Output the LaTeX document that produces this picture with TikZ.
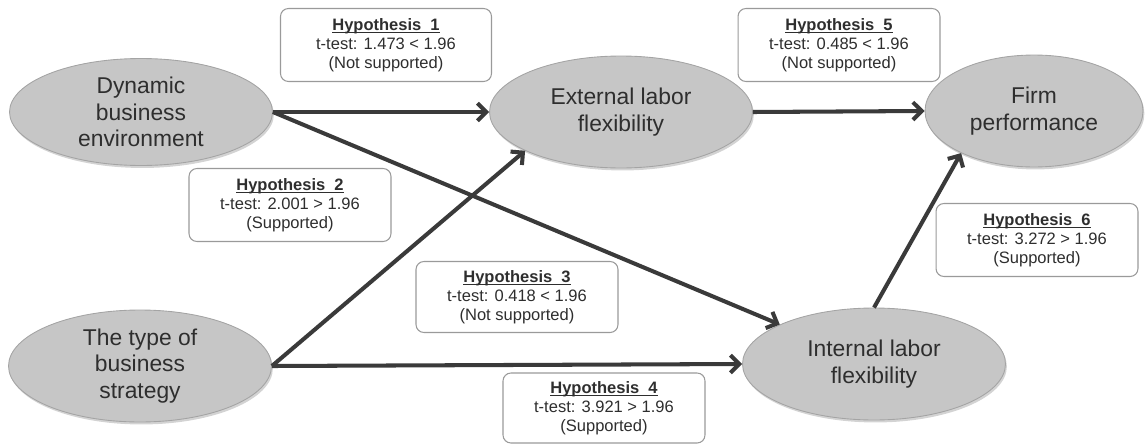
\documentclass[tikz,border=0pt]{standalone}
\usepackage{fontspec}
\setmainfont{Liberation Sans}
\usetikzlibrary{shapes.geometric, arrows.meta, shadows}

\definecolor{ovalfill}{HTML}{C6C6C6}
\definecolor{ovaledge}{HTML}{A4A4A4}
\definecolor{boxedge}{HTML}{9A9A9A}
\definecolor{linkgray}{HTML}{3A3A3A}
\definecolor{txtgray}{HTML}{2E2E2E}

% underlined bold heading of a hypothesis box
\newsavebox{\hypbox}
\newcommand{\hyphead}[1]{\sbox{\hypbox}{\textbf{Hypothesis\hspace{0.55em}#1}}%
    \rlap{\rule[-1.4pt]{\wd\hypbox}{0.55pt}}\usebox{\hypbox}}
\newcommand{\hyptext}[3]{\hyphead{#1}\\t-test: #2\\(#3)}

\begin{document}
\begin{tikzpicture}[
    x=0.02cm, y=-0.02cm,
    factor/.style={ellipse, fill=ovalfill, draw=ovaledge, line width=0.5pt, inner sep=0pt,
        minimum width=5.26cm, minimum height=2.24cm, align=center, text=txtgray,
        font=\fontsize{13}{15}\selectfont,
        drop shadow={shadow xshift=0.8pt, shadow yshift=-1.4pt, opacity=0.35, fill=gray}},
    hyp/.style={rectangle, rounded corners=4.5pt, draw=boxedge, fill=white, line width=0.6pt,
        minimum width=4.04cm, minimum height=1.46cm, align=center, text=txtgray,
        font=\fontsize{9.4}{10.8}\selectfont},
    link/.style={draw=linkgray, line width=2.3pt, -{Straight Barb[length=5pt,width=10pt]}},
]

% Picture frame
\useasboundingbox (0,0) rectangle (1146,443);

% Constructs
\node[factor, minimum height=2.14cm] (dyn) at (141, 112) {Dynamic\\business\\environment};
\node[factor] (strat) at (140, 366) {The type of\\business\\strategy};
\node[factor] (ext) at (621, 112) {External labor\\flexibility};
\node[factor] (int) at (874, 364) {Internal labor\\flexibility};
\node[factor, minimum width=4.36cm] (perf) at (1034, 111) {Firm\\performance};

% Paths
\draw[link] (dyn.east) -- (ext.west);
\draw[link] (dyn.east) -- (int);
\draw[link] (strat.east) -- (ext.202);
\draw[link] (strat.east) -- (int.west);
\draw[link] (ext.east) -- (perf.west);
\draw[link] (int.north) -- (perf.210);

% Hypothesis labels
\node[hyp, minimum width=4.22cm] (h1) at (386, 45) {\hyptext{1}{1.473 < 1.96}{Not supported}};
\node[hyp] (h2) at (290, 205) {\hyptext{2}{2.001 > 1.96}{Supported}};
\node[hyp, minimum height=1.42cm] (h3) at (517, 297) {\hyptext{3}{0.418 < 1.96}{Not supported}};
\node[hyp, minimum height=1.40cm] (h4) at (604, 408) {\hyptext{4}{3.921 > 1.96}{Supported}};
\node[hyp] (h5) at (839, 45) {\hyptext{5}{0.485 < 1.96}{Not supported}};
\node[hyp] (h6) at (1037, 240) {\hyptext{6}{3.272 > 1.96}{Supported}};

\end{tikzpicture}
\end{document}
